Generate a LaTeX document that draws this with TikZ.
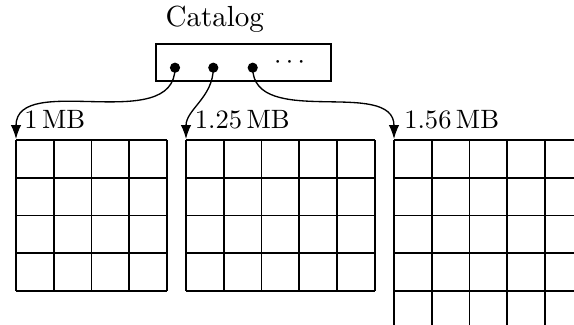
\documentclass[tikz,border=0pt]{standalone}
\usetikzlibrary{arrows.meta}
\begin{document}
\begin{tikzpicture}[x=0.013245cm, y=-0.013245cm,
  dotnode/.style={circle, fill=black, inner sep=0pt, minimum size=0.135cm},
  sizelabel/.style={anchor=base west, inner sep=0pt},
  gridline/.style={line width=0.6pt},
  link/.style={-{Latex}, line width=0.5pt}]
\useasboundingbox (0,0) rectangle (574,325);
\clip (0,0) rectangle (574,325);
% title and catalog box
\node[anchor=base west, inner sep=0pt, font=\fontsize{10.95}{13}\selectfont] (title) at (165,26.7) {Catalog};
\node[draw, line width=0.6pt, minimum width=2.318cm, minimum height=0.486cm, inner sep=0pt] (catalog) at (243.5,62.65) {};
\node[dotnode] (d1) at (175,67.7) {};
\node[dotnode] (d2) at (213.3,67.7) {};
\node[dotnode] (d3) at (252.7,67.7) {};
\node[inner sep=0pt] (more) at (289.5,62.5) {$\cdots$};
% grids
\foreach \i in {0,...,4} {
  \draw[gridline] ({16+37.75*\i},140) -- ({16+37.75*\i},291);
  \draw[gridline] (16,{140+37.75*\i}) -- (167,{140+37.75*\i});
}
\foreach \i in {0,...,5} {
  \draw[gridline] ({186+37.75*\i},140) -- ({186+37.75*\i},291);
}
\foreach \i in {0,...,4} {
  \draw[gridline] (186,{140+37.75*\i}) -- (374.75,{140+37.75*\i});
}
\foreach \i in {0,...,5} {
  \draw[gridline] ({394+37.75*\i},140) -- ({394+37.75*\i},329);
  \draw[gridline] (394,{140+37.75*\i}) -- (583,{140+37.75*\i});
}
% labels
\node[sizelabel] (l1) at (23.8,128.3) {1\,MB};
\node[sizelabel] (l2) at (194.4,128.3) {1.25\,MB};
\node[sizelabel] (l3) at (403.8,128.3) {1.56\,MB};
% arrow targets
\coordinate (t1) at (16,139);
\coordinate (t2) at (186,139);
\coordinate (t3) at (394,139);
\draw[link] (d1.center) to[out=-90,in=90] (t1);
\draw[link] (d2.center) to[out=-90,in=90] (t2);
\draw[link] (d3.center) to[out=-90,in=90] (t3);
\end{tikzpicture}
\end{document}
